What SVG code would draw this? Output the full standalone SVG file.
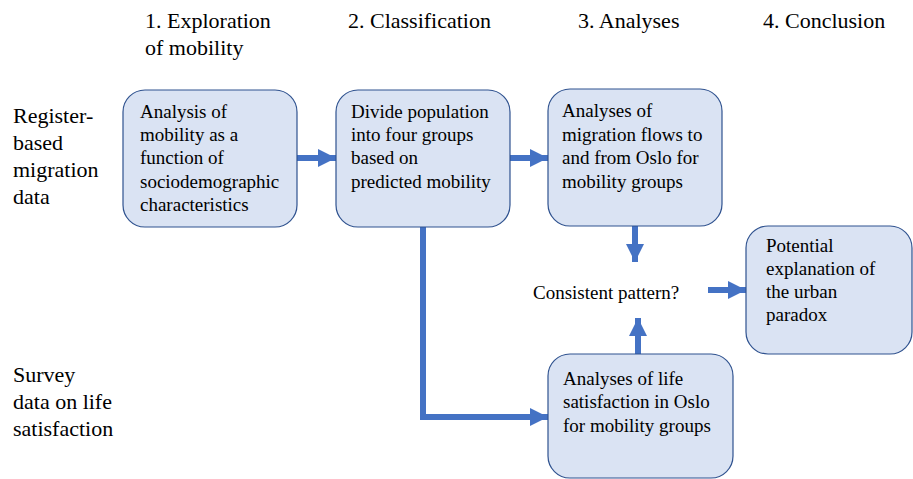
<svg xmlns="http://www.w3.org/2000/svg" width="913" height="479" viewBox="0 0 913 479">
<style>
.box{fill:#dae3f3;stroke:#2f528f;stroke-width:1.2}
.c{fill:none;stroke:#4472c4;stroke-width:6}
</style>
<defs>
<marker id="ah" markerUnits="userSpaceOnUse" markerWidth="18" markerHeight="18" refX="18" refY="9" orient="auto">
<path d="M0,0 L18,9 L0,18 Z" fill="#4472c4"/>
</marker>
</defs>
<rect width="913" height="479" fill="#fff"/>
<g id="headers">
<text style="font-family:'Liberation Serif',serif;font-size:22px" x="145" y="28">1. Exploration</text>
<text style="font-family:'Liberation Serif',serif;font-size:22px" x="145" y="55">of mobility</text>
<text style="font-family:'Liberation Serif',serif;font-size:22px" x="348" y="28">2. Classification</text>
<text style="font-family:'Liberation Serif',serif;font-size:22px" x="578" y="28">3. Analyses</text>
<text style="font-family:'Liberation Serif',serif;font-size:22px" x="763" y="28">4. Conclusion</text>
</g>
<g id="row-labels">
<text style="font-family:'Liberation Serif',serif;font-size:22px" x="13" y="123">Register-</text>
<text style="font-family:'Liberation Serif',serif;font-size:22px" x="13" y="150">based</text>
<text style="font-family:'Liberation Serif',serif;font-size:22px" x="13" y="177">migration</text>
<text style="font-family:'Liberation Serif',serif;font-size:22px" x="13" y="204">data</text>
<text style="font-family:'Liberation Serif',serif;font-size:22px" x="13" y="382">Survey</text>
<text style="font-family:'Liberation Serif',serif;font-size:22px" x="13" y="409">data on life</text>
<text style="font-family:'Liberation Serif',serif;font-size:22px" x="13" y="436">satisfaction</text>
</g>
<g id="connectors">
<line class="c" x1="297" y1="158" x2="336" y2="158" marker-end="url(#ah)"/>
<line class="c" x1="510" y1="158" x2="548" y2="158" marker-end="url(#ah)"/>
<line class="c" x1="635" y1="226" x2="635" y2="262" marker-end="url(#ah)"/>
<line class="c" x1="708" y1="290" x2="746" y2="290" marker-end="url(#ah)"/>
<line class="c" x1="638" y1="354" x2="638" y2="318" marker-end="url(#ah)"/>
<polyline class="c" points="423,227 423,417 548,417" marker-end="url(#ah)"/>
</g>
<g id="n1">
<rect class="box" x="123" y="90" width="174" height="137" rx="22"/>
<text style="font-family:'Liberation Serif',serif;font-size:19px" x="140" y="118">Analysis of</text>
<text style="font-family:'Liberation Serif',serif;font-size:19px" x="140" y="141">mobility as a</text>
<text style="font-family:'Liberation Serif',serif;font-size:19px" x="140" y="164">function of</text>
<text style="font-family:'Liberation Serif',serif;font-size:19px" x="140" y="188">sociodemographic</text>
<text style="font-family:'Liberation Serif',serif;font-size:19px" x="140" y="211">characteristics</text>
</g>
<g id="n2">
<rect class="box" x="336" y="90" width="174" height="137" rx="22"/>
<text style="font-family:'Liberation Serif',serif;font-size:19px" x="351" y="118">Divide population</text>
<text style="font-family:'Liberation Serif',serif;font-size:19px" x="351" y="141">into four groups</text>
<text style="font-family:'Liberation Serif',serif;font-size:19px" x="351" y="164">based on</text>
<text style="font-family:'Liberation Serif',serif;font-size:19px" x="351" y="188">predicted mobility</text>
</g>
<g id="n3">
<rect class="box" x="548" y="89" width="174" height="137" rx="22"/>
<text style="font-family:'Liberation Serif',serif;font-size:19px" x="562" y="117">Analyses of</text>
<text style="font-family:'Liberation Serif',serif;font-size:19px" x="562" y="141">migration flows to</text>
<text style="font-family:'Liberation Serif',serif;font-size:19px" x="562" y="164">and from Oslo for</text>
<text style="font-family:'Liberation Serif',serif;font-size:19px" x="562" y="188">mobility groups</text>
</g>
<g id="n-consistent">
<text style="font-family:'Liberation Serif',serif;font-size:19px" x="533" y="299">Consistent pattern?</text>
</g>
<g id="n4">
<rect class="box" x="746" y="226" width="166" height="128" rx="22"/>
<text style="font-family:'Liberation Serif',serif;font-size:19px" x="766" y="252">Potential</text>
<text style="font-family:'Liberation Serif',serif;font-size:19px" x="766" y="275">explanation of</text>
<text style="font-family:'Liberation Serif',serif;font-size:19px" x="766" y="298">the urban</text>
<text style="font-family:'Liberation Serif',serif;font-size:19px" x="766" y="321">paradox</text>
</g>
<g id="n5">
<rect class="box" x="548" y="354" width="185" height="124" rx="22"/>
<text style="font-family:'Liberation Serif',serif;font-size:19px" x="563" y="385">Analyses of life</text>
<text style="font-family:'Liberation Serif',serif;font-size:19px" x="563" y="408">satisfaction in Oslo</text>
<text style="font-family:'Liberation Serif',serif;font-size:19px" x="563" y="432">for mobility groups</text>
</g>
</svg>
